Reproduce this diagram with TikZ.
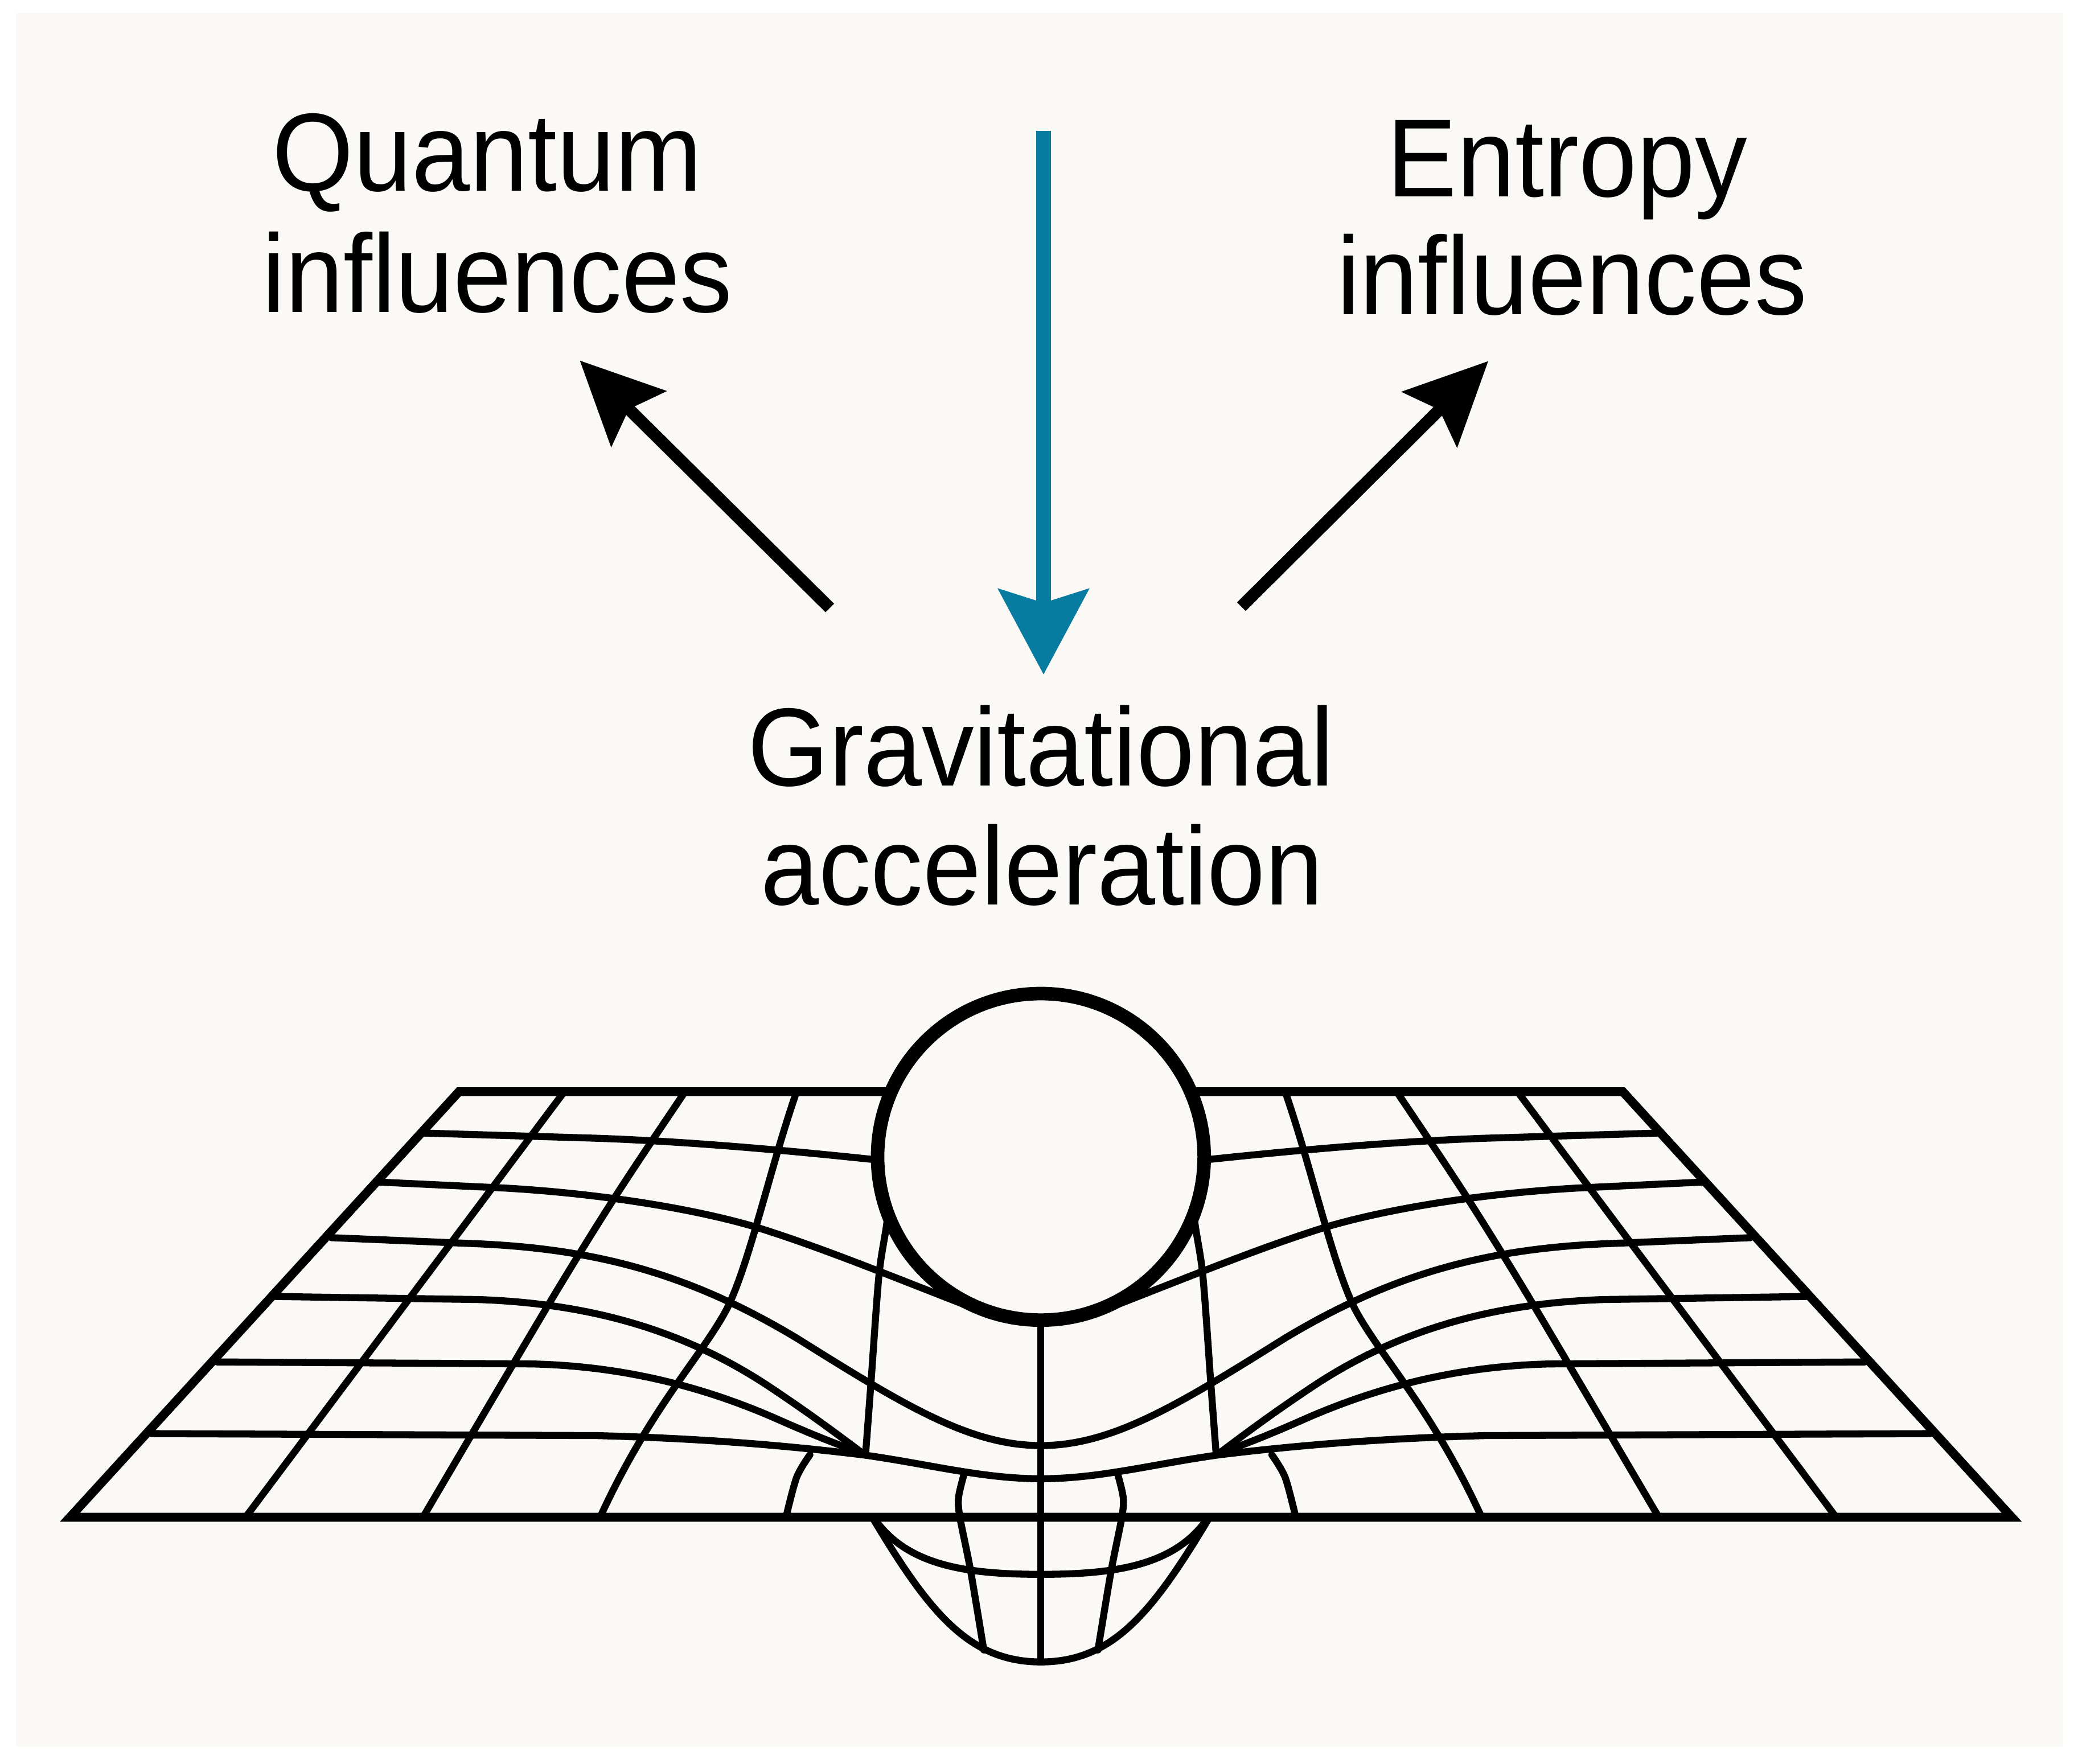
\documentclass[tikz,border=0pt]{standalone}
\usepackage{fontspec}
\setmainfont{Liberation Sans}[FakeStretch=0.94]
\usetikzlibrary{arrows.meta}
\definecolor{bgcol}{RGB}{251,249,246}
\definecolor{arrowblue}{RGB}{8,124,160}
\newcommand\halfgrid{%
  % outer border (left half)
  \draw[edge] (700,822.4) -- (345.7,822.4) -- (52.7,1143) -- (784,1143);
  % rows
  \draw[grid] (320,853.6) -- (450,857.5) .. controls (520,860) and (600,867) .. (690,877);
  \draw[grid] (285.4,890.5) -- (380,895) .. controls (450,899) and (520,910) .. (568,924) .. controls (620,940) and (680,965) .. (750,992);
  \draw[grid] (207.8,976.7) -- (360,979) .. controls (450,982) and (520,1005) .. (580,1045) .. controls (610,1065) and (630,1080) .. (650,1095);
  \draw[grid] (163.5,1026) -- (400,1027.5) .. controls (470,1029) and (530,1045) .. (583,1068) .. controls (610,1080) and (630,1088) .. (650,1095);
  % columns
  \draw[grid] (425,822.4) -- (185,1143);
  \draw[grid] plot[smooth,tension=0.5] coordinates {(516,822.4) (465,899) (413,983) (318.6,1143)};
  \draw[grid] (600,822.4) .. controls (580,880) and (565,950) .. (548,985) .. controls (530,1020) and (490,1060) .. (452,1143);
  \draw[grid] plot[smooth,tension=0.5] coordinates {(672,880) (668,921) (662,961) (656,1042) (652,1095)};
  \draw[grid] plot[smooth,tension=0.5] coordinates {(610,1096) (600,1113) (592,1143)};
  \draw[grid] plot[smooth,tension=0.5] coordinates {(726,1111) (722,1128) (723,1143) (731,1183) (741,1243)};
  % bowl below the sheet (left half)
  \draw[grid] (657,1143) .. controls (700,1215) and (730,1252) .. (784,1252);
  \draw[grid] (660,1146) .. controls (685,1180) and (730,1186) .. (784,1186);
}
\begin{document}
\begin{tikzpicture}[x=0.1mm,y=-0.1mm,
  grid/.style={line width=1.5pt,line join=round,line cap=round},
  edge/.style={line width=1.9pt,line join=miter},
  ballstyle/.style={line width=2.9pt,fill=bgcol},
  lbl/.style={font=\fontsize{23.8pt}{26pt}\selectfont,inner sep=0pt,anchor=base},
  blk/.style={line width=2.6pt,-{Stealth[length=6.2mm,width=5.8mm,inset=1mm]}},
  blu/.style={draw=arrowblue,line width=3.2pt,-{Stealth[length=6.4mm,width=6.7mm,inset=1mm]}}]
\useasboundingbox (0,0) rectangle (1568.2,1328.9);
\fill[white] (0,0) rectangle (1568.2,1328.9);
\fill[bgcol] (12,9.9) rectangle (1554,1316);

% labels
\node[lbl] (q1) at (367,143.7) {Quantum};
\node[lbl] (q2) at (374.5,235) {influences};
\node[lbl] (e1) at (1180.5,148) {Entropy};
\node[lbl] (e2) at (1184,237) {influences};
\node[lbl] (g1) at (784,591.8) {Gravitational};
\node[lbl] (g2) at (785,681.8) {acceleration};

% arrows
\coordinate (qtail) at (625,458);
\coordinate (qtip) at (436.7,271.6);
\coordinate (etail) at (935,457);
\coordinate (etip) at (1121,272);
\coordinate (btop) at (786,98.6);
\coordinate (btip) at (786,508.2);
\draw[blk] (qtail) -- (qtip);
\draw[blk] (etail) -- (etip);
\draw[blu] (btop) -- (btip);

% curved grid
\halfgrid
\begin{scope}[xshift=156.8mm,xscale=-1]
  \halfgrid
\end{scope}
% full-width curves
\draw[grid] (249.7,932.4) -- (360,937) .. controls (450,941) and (520,960) .. (600,1008) .. controls (680,1058) and (730,1089) .. (784,1089)
  .. controls (838,1089) and (888,1058) .. (968,1008) .. controls (1048,960) and (1118,941) .. (1208,937) -- (1318.3,932.4);
\draw[grid] (114.3,1080) -- (450,1081.5) .. controls (540,1084) and (600,1090) .. (650,1096) .. controls (700,1103) and (740,1114) .. (784,1114)
  .. controls (828,1114) and (868,1103) .. (918,1096) .. controls (968,1090) and (1028,1084) .. (1118,1081.5) -- (1453.7,1080);
\draw[grid] (784,985) -- (784,1252);
% the mass
\draw[ballstyle] (784,871.5) circle[radius=123];
\end{tikzpicture}
\end{document}
